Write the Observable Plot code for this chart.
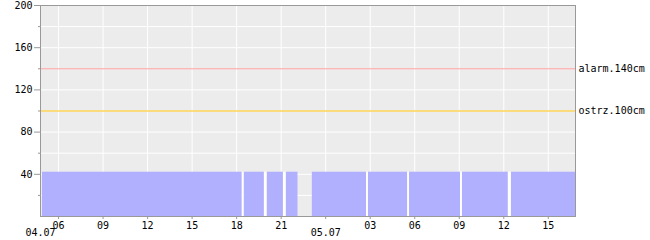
<!DOCTYPE html>
<html>
<head>
<meta charset="utf-8">
<script src="https://cdn.jsdelivr.net/npm/d3@7"></script>
<script src="https://cdn.jsdelivr.net/npm/@observablehq/plot@0.6"></script>
<style>
  html, body { margin: 0; padding: 0; background: white; }
</style>
</head>
<body>
<div id="chart"></div>
<script>
// --- data ---
const domainStart = "2024-07-04T04:47Z";
const domainEnd = "2024-07-05T16:50Z";

const segmentStarts = ["2024-07-04T04:55Z","2024-07-04T18:31Z","2024-07-04T20:04Z","2024-07-04T21:21Z","2024-07-04T23:06Z","2024-07-05T02:53Z","2024-07-05T05:39Z","2024-07-05T09:13Z","2024-07-05T12:31Z"];
const segmentEnds   = ["2024-07-04T18:22Z","2024-07-04T19:52Z","2024-07-04T21:09Z","2024-07-04T22:08Z","2024-07-05T02:45Z","2024-07-05T05:31Z","2024-07-05T09:05Z","2024-07-05T12:18Z","2024-07-05T16:50Z"];
const segmentLevels = [42, 42, 42, 42, 42, 42, 42, 42, 42];

const thresholdValues = [140, 100];
const thresholdLabels = ["alarm.140cm", "ostrz.100cm"];
const thresholdColors = ["#ff9c9c", "#ffc000"];

const hourTicks = ["2024-07-04T06:00Z","2024-07-04T09:00Z","2024-07-04T12:00Z","2024-07-04T15:00Z","2024-07-04T18:00Z","2024-07-04T21:00Z","2024-07-05T00:00Z","2024-07-05T03:00Z","2024-07-05T06:00Z","2024-07-05T09:00Z","2024-07-05T12:00Z","2024-07-05T15:00Z"];
const hourLabels = ["06","09","12","15","18","21","","03","06","09","12","15"];

const dateTicks = ["2024-07-04T04:47Z","2024-07-05T00:00Z"];
const dateLabels = ["04.07","05.07"];

const yMajorTicks = [40, 80, 120, 160, 200];
const yMinorTicks = [20, 60, 100, 140, 180];
const yGridTicks = [20, 40, 60, 80, 100, 120, 140, 160, 180];

// --- build tables ---
const segments = segmentStarts.map((s, i) => ({start: new Date(s), end: new Date(segmentEnds[i]), level: segmentLevels[i]}));
const gaps = [];
for (let i = 1; i < segments.length; i++) {
  const g = segments[i].start - segments[i - 1].end;
  if (g <= 15 * 60 * 1000) gaps.push({start: segments[i - 1].end, end: segments[i].start, level: Math.min(segments[i - 1].level, segments[i].level)});
}
const thresholds = thresholdValues.map((v, i) => ({value: v, label: thresholdLabels[i], color: thresholdColors[i], t: new Date(domainEnd)}));
const hourTickDates = hourTicks.map(d => new Date(d));
const hourLabelMap = new Map(hourTickDates.map((d, i) => [+d, hourLabels[i]]));
const dates = dateTicks.map((d, i) => ({t: new Date(d), label: dateLabels[i]}));

const chart = Plot.plot({
  width: 650,
  height: 240,
  marginLeft: 40,
  marginRight: 75,
  marginTop: 5,
  marginBottom: 24,
  style: {fontFamily: "'DejaVu Sans Mono', monospace", fontSize: "10px", background: "white", color: "black"},
  x: {type: "utc", domain: [new Date(domainStart), new Date(domainEnd)]},
  y: {domain: [0, 200]},
  color: {type: "identity"},
  marks: [
    Plot.frame({fill: "#ececec"}),
    Plot.gridY(yGridTicks, {stroke: "white", strokeOpacity: 1}),
    Plot.gridX(hourTickDates, {stroke: "white", strokeOpacity: 1}),
    Plot.rect(gaps, {x1: "start", x2: "end", y1: 0, y2: "level", fill: "white"}),
    Plot.rect(segments, {x1: "start", x2: "end", y1: 0, y2: "level", fill: "#b0b0ff"}),
    Plot.ruleY(thresholds, {y: "value", stroke: "color"}),
    Plot.text(thresholds, {x: "t", y: "value", text: "label", textAnchor: "start", dx: 3, fill: "black"}),
    Plot.frame({stroke: "#999"}),
    Plot.axisY(yMajorTicks, {tickSize: 6, tickPadding: 2, stroke: "#999", fill: "black", label: null}),
    Plot.axisY(yMinorTicks, {tickSize: 2, tickFormat: () => "", stroke: "#999", label: null}),
    Plot.axisX(hourTickDates, {tickSize: 3, tickPadding: 2, stroke: "#999", fill: "black", tickFormat: d => hourLabelMap.get(+d), label: null}),
    Plot.text(dates, {x: "t", text: "label", frameAnchor: "bottom", lineAnchor: "top", dy: 12, fill: "black"})
  ]
});
document.getElementById("chart").appendChild(chart);
</script>
</body>
</html>
